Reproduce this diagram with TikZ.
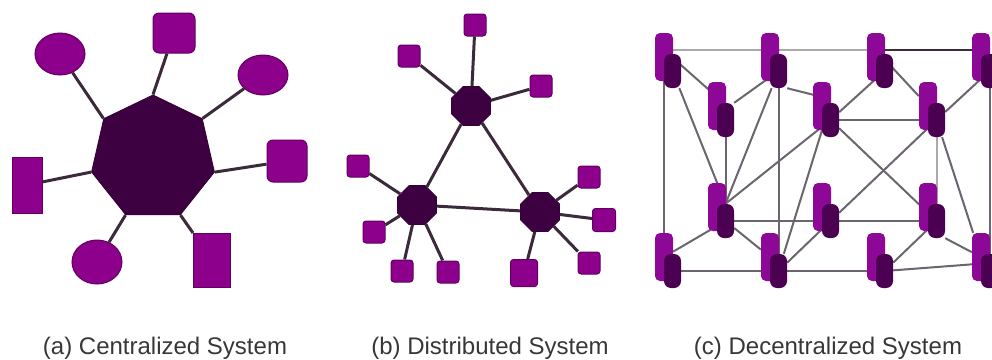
\documentclass[tikz,border=0pt]{standalone}
\usepackage{fontspec}
\setmainfont{Liberation Sans}
\usepackage{xcolor}
\usepackage{tikz}
\usetikzlibrary{shapes.geometric, backgrounds}

\definecolor{plum}{RGB}{61,0,65}
\definecolor{orchid}{RGB}{140,0,140}
\definecolor{peerpink}{RGB}{142,8,152}
\definecolor{peerdark}{RGB}{76,0,82}
\definecolor{spokegray}{RGB}{58,42,58}
\definecolor{meshgray}{RGB}{108,100,110}
\definecolor{faintgray}{RGB}{172,168,172}
\definecolor{captext}{RGB}{55,55,55}

\begin{document}
\begin{tikzpicture}[x=1pt, y=-1pt,
    hub/.style={regular polygon, fill=plum, draw=plum!85!black, line width=0.8pt, inner sep=0pt},
    sat/.style={fill=orchid, draw=orchid!70!black, line width=1pt, inner sep=0pt},
    leaf/.style={sat, rectangle, rounded corners=3pt},
    spoke/.style={line width=3pt, draw=spokegray},
    peercase/.style={rectangle, rounded corners=5pt, fill=peerpink, minimum width=18pt, minimum height=48pt, inner sep=0pt},
    peerdisk/.style={rectangle, rounded corners=7pt, fill=peerdark, minimum width=17pt, minimum height=34pt, inner sep=0pt},
    mesh/.style={line width=2pt, draw=meshgray},
    faint/.style={line width=2pt, draw=faintgray},
    caption/.style={anchor=base, text=captext, font=\fontsize{24}{28}\selectfont}]
    \useasboundingbox (0,0) rectangle (992,359);
    \clip (0,0) rectangle (992,359);

    % (a) one server, every client hangs on it
    \node[hub, regular polygon sides=7, minimum size=126pt] (server) at (153,158) {};
    \node[sat, ellipse, minimum width=50pt, minimum height=42pt] (sat1) at (60,54) {};
    \node[sat, rectangle, rounded corners=6pt, minimum width=42pt, minimum height=40pt] (sat2) at (174,33) {};
    \node[sat, ellipse, minimum width=50pt, minimum height=40pt] (sat3) at (263,75) {};
    \node[sat, rectangle, rounded corners=6pt, minimum width=40pt, minimum height=42pt] (sat4) at (287,161) {};
    \node[sat, rectangle, minimum width=30pt, minimum height=56pt] (sat5) at (27,185) {};
    \node[sat, ellipse, minimum width=50pt, minimum height=44pt] (sat6) at (97,262) {};
    \node[sat, rectangle, minimum width=37pt, minimum height=54pt] (sat7) at (212,260) {};
    \foreach \c/\s in {2/sat1, 1/sat2, 7/sat3, 6/sat4, 3/sat5, 4/sat6, 5/sat7}
        \draw[spoke] (server.corner \c) -- (\s);

    % (b) three hubs in a ring
    \foreach \n/\x/\y in {n1/471/106, n2/417/205, n3/540/212}
        \node[hub, regular polygon sides=8, minimum size=42pt] (\n) at (\x,\y) {};
    \draw[spoke] (n1) -- (n2);
    \draw[spoke] (n1) -- (n3);
    \draw[spoke] (n2) -- (n3);
    \foreach \n/\x/\y/\s/\h in {l1/475/25/22/n1, l2/409/56/22/n1, l3/541/86/22/n1,
                                l4/358/166/22/n2, l5/374/232/22/n2, l6/402/271/22/n2, l7/448/272/22/n2,
                                l8/589/177/22/n3, l9/604/220/23/n3, l10/589/263/22/n3, l11/524/273/27/n3} {
        \node[leaf, minimum size=\s pt] (\n) at (\x,\y) {};
        \draw[spoke] (\h) -- (\n);
    }

    % (c) peers, no centre
    \foreach \n/\x/\y in {a1/664/57, a2/770/57, a3/876/57, a4/981/57,
                          b1/717/106, b2/822/106, b3/928/106,
                          c1/717/207, c2/822/207, c3/928/207,
                          d1/664/257, d2/770/257, d3/876/257, d4/981/257} {
        \node[peercase] (r\n) at (\x,\y) {};
        \node[peerdisk] (\n) at (\x+8.5,\y+14) {};
    }
    \begin{pgfonlayer}{background}
        \draw[faint] ([yshift=7pt]ra1.center) -- ([yshift=7pt]ra2.center);
        \draw[faint] ([yshift=7pt]ra2.center) -- ([yshift=7pt]ra3.center);
        \draw[mesh, draw=spokegray] ([yshift=7pt]ra3.center) -- ([yshift=7pt]ra4.center);
        \draw[mesh] ([yshift=7pt]ra1.center) -- ([yshift=9pt]rb1.center);
        \draw[mesh] (ra1) -- (rd1);
        \draw[mesh] (a1) -- (c1.north);
        \draw[mesh] (b1) -- (c1);
        \draw[mesh] (b1.north east) -- (a2);
        \draw[mesh] (a2) -- (c1.north);
        \draw[mesh] (b2) -- (c1.north);
        \draw[mesh] (a2) -- (d2);
        \draw[mesh] (a2.south east) -- ([yshift=9pt]rb2.center);
        \draw[mesh] (b2) -- (a3);
        \draw[mesh] ([yshift=7pt]ra3.center) -- (rb3);
        \draw[mesh] (b2) -- (b3);
        \draw[mesh] (b2) -- (c3);
        \draw[mesh] (b3) -- (a4);
        \draw[faint] (b3) -- (c3);
        \draw[mesh] (b3) -- (rd4);
        \draw[mesh] (a4) -- (d4);
        \draw[mesh] (c1) -- (c2);
        \draw[mesh] (c2) -- (c3);
        \draw[mesh] (c2) -- (b3);
        \draw[mesh] (c1) -- (rd1);
        \draw[mesh] (c1) -- (rd2);
        \draw[mesh] (d2) -- (rb2.south);
        \draw[mesh] (d2) -- (c2);
        \draw[mesh] (d1) -- (d2);
        \draw[mesh] (d2) -- (d3);
        \draw[mesh] (d3) -- ([yshift=8pt]d4.center);
        \draw[mesh] (c3) -- (d3);
        \draw[mesh] (c3.south east) -- (rd4);
    \end{pgfonlayer}

    \node[caption] (capa) at (165,354) {(a) Centralized System};
    \node[caption] (capb) at (490,354) {(b) Distributed System};
    \node[caption] (capc) at (828,354) {(c) Decentralized System};
\end{tikzpicture}
\end{document}
